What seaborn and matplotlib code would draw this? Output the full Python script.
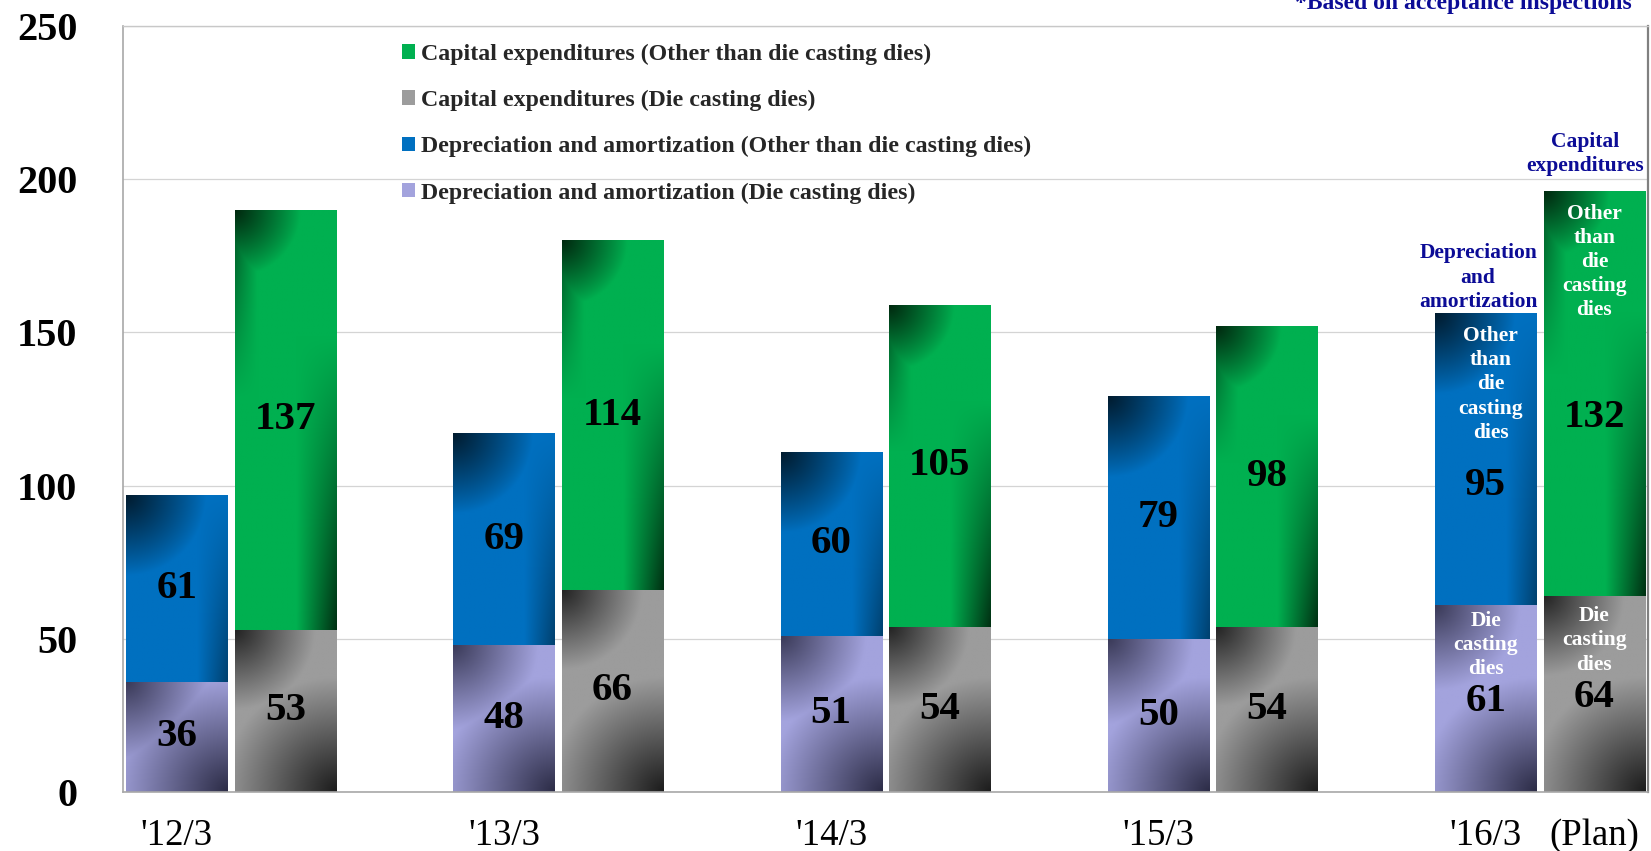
import numpy as np
import pandas as pd
import matplotlib
matplotlib.use("Agg")
import matplotlib.pyplot as plt
import seaborn as sns
from matplotlib.patches import Patch
from matplotlib.colors import to_rgb

# ---------------- data ----------------
years = ["'12/3", "'13/3", "'14/3", "'15/3", "'16/3"]
dep_die = [36, 48, 51, 50, 61]
dep_other = [61, 69, 60, 79, 95]
capex_die = [53, 66, 54, 54, 64]
capex_other = [137, 114, 105, 98, 132]
kinds = ["Depreciation and amortization", "Capital expenditures"]
legend_labels = [
    "Capital expenditures (Other than die casting dies)",
    "Capital expenditures (Die casting dies)",
    "Depreciation and amortization (Other than die casting dies)",
    "Depreciation and amortization (Die casting dies)",
]
yticks = [0, 50, 100, 150, 200, 250]

# ---------------- style ----------------
C_PURPLE = "#A3A3DD"
C_BLUE = "#0070C0"
C_GREY = "#9C9C9C"
C_GREEN = "#00B050"
NAVY = "#0C0C96"

sns.set_theme(style="white")
plt.rcParams["font.family"] = ["Liberation Serif", "DejaVu Serif"]

W, H = 1651, 851
fig = plt.figure(figsize=(W / 100, H / 100), dpi=100)
ax_l, ax_r, ax_t, ax_b = 123, 1648, 26, 792
ax = fig.add_axes([ax_l / W, 1 - ax_b / H, (ax_r - ax_l) / W, (ax_b - ax_t) / H])

dep_total = [a + b for a, b in zip(dep_die, dep_other)]
cap_total = [a + b for a, b in zip(capex_die, capex_other)]

tot = pd.DataFrame({"year": years * 2,
                    "kind": [kinds[0]] * 5 + [kinds[1]] * 5,
                    "value": dep_total + cap_total})
bot = pd.DataFrame({"year": years * 2,
                    "kind": [kinds[0]] * 5 + [kinds[1]] * 5,
                    "value": dep_die + capex_die})

BW, GAP = 0.663, 0.068
sns.barplot(data=tot, x="year", y="value", hue="kind", hue_order=kinds,
            palette=[C_BLUE, C_GREEN], width=BW, gap=GAP, saturation=1,
            legend=False, ax=ax, linewidth=0, edgecolor="none", zorder=1)
n1 = len(ax.patches)
sns.barplot(data=bot, x="year", y="value", hue="kind", hue_order=kinds,
            palette=[C_PURPLE, C_GREY], width=BW, gap=GAP, saturation=1,
            legend=False, ax=ax, linewidth=0, edgecolor="none", zorder=1)
top_patches = [p for p in ax.patches[:n1] if p.get_height() > 0]
bot_patches = [p for p in ax.patches[n1:] if p.get_height() > 0]

XLIM = (-0.33, 4.33)
YLIM = (0, 250)
px_x = (ax_r - ax_l) / (XLIM[1] - XLIM[0])
px_y = (ax_b - ax_t) / (YLIM[1] - YLIM[0])


def clip01(a):
    return np.clip(a, 0, 1)


def overlay(x0, x1, y0, y1, base, dark, style):
    w = (x1 - x0) * px_x
    h = (y1 - y0) * px_y
    nx, ny = 80, max(int(h / 2), 10)
    xx, yy = np.meshgrid(np.linspace(0, w, nx), np.linspace(0, h, ny))
    d_tl = np.hypot(xx, yy)
    d_br = np.hypot(w - xx, h - yy)
    if style == "purple":
        t = np.maximum(clip01(1 - d_tl / 85) * 0.75, clip01(1 - d_br / 115) * 0.85)
    elif style == "grey":
        t = np.maximum(clip01(1 - d_tl / 80) * 0.85, clip01(1 - d_br / 115) * 0.9)
    elif style == "blue":
        t = clip01(1 - d_tl / 80) ** 0.9 * 0.9
        t2 = clip01(1 - (w - xx) / 30) * clip01(yy / h) * 0.5
        t = np.maximum(t, t2)
    else:  # green
        t = clip01(1 - d_tl / 65) ** 0.9 * 0.9
        t1 = clip01(1 - xx / 22) * clip01(1 - yy / (0.45 * h)) * 0.6
        t2 = clip01(1 - (w - xx) / 40) * clip01((yy / h - 0.3) / 0.7) * 0.85
        t = np.maximum(np.maximum(t, t1), t2)
    b = np.array(to_rgb(base))
    d = np.array(to_rgb(dark))
    img = b[None, None, :] * (1 - t[..., None]) + d[None, None, :] * t[..., None]
    ax.imshow(img, extent=(x0, x1, y0, y1), origin="upper", aspect="auto",
              interpolation="bilinear", zorder=2)


def center(p):
    return p.get_x() + p.get_width() / 2


bot_by_x = {round(center(p), 3): p for p in bot_patches}
segments = []  # (xcenter, is_dep)
for p in top_patches:
    xc = round(center(p), 3)
    bp = bot_by_x[xc]
    x0, x1 = p.get_x(), p.get_x() + p.get_width()
    hb, ht = bp.get_height(), p.get_height()
    is_dep = to_rgb(p.get_facecolor()[:3]) == to_rgb(C_BLUE)
    if is_dep:
        overlay(x0, x1, 0, hb, C_PURPLE, "#17172c", "purple")
        overlay(x0, x1, hb, ht, C_BLUE, "#00121f", "blue")
    else:
        overlay(x0, x1, 0, hb, C_GREY, "#0e0e0e", "grey")
        overlay(x0, x1, hb, ht, C_GREEN, "#001a08", "green")
    segments.append((xc, is_dep))

ax.set_xlim(*XLIM)
ax.set_ylim(*YLIM)

segments.sort(key=lambda s: s[0])
dep_x = [s[0] for s in segments if s[1]]
cap_x = [s[0] for s in segments if not s[1]]

# value labels
VFS = 29.5
for i in range(5):
    last = i == 4
    y_die = dep_die[i] / 2 if not last else dep_die[i] * 0.485
    y_oth = dep_die[i] + dep_other[i] / 2 if not last else dep_die[i] + dep_other[i] * 0.41
    ax.text(dep_x[i], y_die, f"{dep_die[i]}", ha="center", va="center",
            fontsize=VFS, fontweight="bold", color="black", zorder=5)
    ax.text(dep_x[i], y_oth, f"{dep_other[i]}", ha="center", va="center",
            fontsize=VFS, fontweight="bold", color="black", zorder=5)
    y_die = capex_die[i] / 2 if not last else capex_die[i] * 0.48
    y_oth = capex_die[i] + capex_other[i] / 2 if not last else capex_die[i] + capex_other[i] * 0.44
    ax.text(cap_x[i], y_die, f"{capex_die[i]}", ha="center", va="center",
            fontsize=VFS, fontweight="bold", color="black", zorder=5)
    ax.text(cap_x[i], y_oth, f"{capex_other[i]}", ha="center", va="center",
            fontsize=VFS, fontweight="bold", color="black", zorder=5)

# annotations on the plan year
AFS = 15.5
LS = 1.28
other_txt = "Other\nthan\ndie\ncasting\ndies"
die_txt = "Die\ncasting\ndies"
ax.text(dep_x[4] + 0.015, 133, other_txt, ha="center", va="center", fontsize=AFS,
        fontweight="bold", color="white", linespacing=LS, zorder=5)
ax.text(cap_x[4], 173, other_txt, ha="center", va="center", fontsize=AFS,
        fontweight="bold", color="white", linespacing=LS, zorder=5)
ax.text(dep_x[4], 48.0, die_txt, ha="center", va="center", fontsize=AFS,
        fontweight="bold", color="white", linespacing=LS, zorder=5)
ax.text(cap_x[4], 49.5, die_txt, ha="center", va="center", fontsize=AFS,
        fontweight="bold", color="white", linespacing=LS, zorder=5)
ax.text(dep_x[4] - 0.023, dep_total[4] + 0.7, "Depreciation\nand\namortization",
        ha="center", va="bottom", fontsize=AFS, fontweight="bold", color=NAVY,
        linespacing=LS, zorder=5)
ax.text(cap_x[4] - 0.027, cap_total[4] + 5.0, "Capital\nexpenditures",
        ha="center", va="bottom", fontsize=AFS, fontweight="bold", color=NAVY,
        linespacing=LS, zorder=5, clip_on=False)
fig.text(1632 / W, 1 - 9 / H, "*Based on acceptance inspections", ha="right",
         va="baseline", fontsize=17, fontweight="bold", color=NAVY)

# axes styling
ax.set_yticks(yticks)
ax.set_yticklabels([str(v) for v in yticks], fontsize=29, fontweight="bold")
ax.set_xticks(dep_x + [cap_x[4]])
ax.set_xticklabels(years + ["(Plan)"], fontsize=26.5)
ax.tick_params(axis="y", length=0, pad=33, colors="black")
ax.tick_params(axis="x", length=0, pad=19, colors="black")
ax.set_xlabel("")
ax.set_ylabel("")
ax.grid(axis="y", color="#d4d4d4", linewidth=0.9, zorder=0)
ax.set_axisbelow(True)
for side, col, lw in [("left", "#a8a8a8", 1.2), ("bottom", "#a8a8a8", 1.2),
                      ("top", "#c8c8c8", 1.0), ("right", "#808080", 1.6)]:
    ax.spines[side].set_visible(True)
    ax.spines[side].set_color(col)
    ax.spines[side].set_linewidth(lw)

# legend
handles = [Patch(facecolor=c, edgecolor="none") for c in (C_GREEN, C_GREY, C_BLUE, C_PURPLE)]
leg = ax.legend(handles, legend_labels, loc="upper left", bbox_to_anchor=(0.183, 0.977),
                frameon=False, prop={"size": 17.2, "weight": "bold"},
                handlelength=0.55, handleheight=0.55, handletextpad=0.25,
                labelspacing=1.05, borderpad=0, borderaxespad=0)
leg.set_zorder(6)

fig.savefig("out.png", dpi=100)
